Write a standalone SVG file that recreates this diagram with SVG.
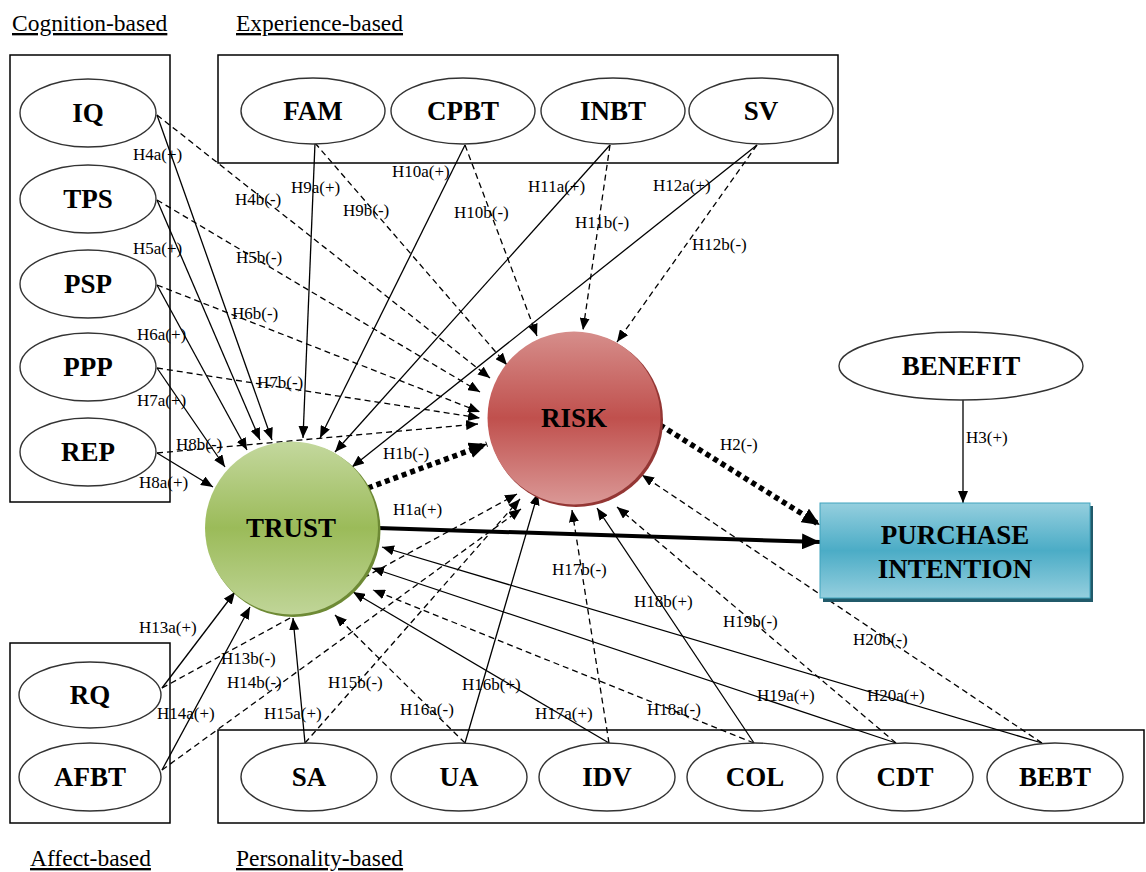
<svg xmlns="http://www.w3.org/2000/svg" width="1146" height="872" viewBox="0 0 1146 872">
<style>
.box{fill:none;stroke:#000;stroke-width:1.5}
.el{fill:#fff;stroke:#333;stroke-width:1.4}
.nt{font-family:"Liberation Serif","Times New Roman",serif;font-weight:bold;font-size:27px;fill:#000;text-anchor:middle}
.hd{font-family:"Liberation Serif","Times New Roman",serif;font-size:23.5px;fill:#000;text-decoration:underline}
.lb{font-family:"Liberation Serif","Times New Roman",serif;font-size:17px;fill:#000}
.s{stroke:#000;stroke-width:1.3;fill:none;marker-end:url(#ah)}
.d{stroke:#000;stroke-width:1.3;fill:none;stroke-dasharray:6,4;marker-end:url(#ah)}
.dot{stroke:#000;stroke-width:5.5;fill:none;stroke-dasharray:5,4;marker-end:url(#big)}
.thick{stroke:#000;stroke-width:4;fill:none;marker-end:url(#big)}
</style>
<defs>
<marker id="ah" markerUnits="userSpaceOnUse" markerWidth="12" markerHeight="10" refX="12" refY="5" orient="auto">
<path d="M0,0 L12,5 L0,10 z" fill="#000"/>
</marker>
<marker id="big" markerUnits="userSpaceOnUse" markerWidth="18" markerHeight="16" refX="18" refY="8" orient="auto">
<path d="M0,0 L18,8 L0,16 z" fill="#000"/>
</marker>
<linearGradient id="gT" x1="0" y1="0" x2="0" y2="1">
<stop offset="0" stop-color="#c4d89e"/><stop offset="0.5" stop-color="#9bbb59"/><stop offset="1" stop-color="#c0d598"/>
</linearGradient>
<linearGradient id="gR" x1="0" y1="0" x2="0" y2="1">
<stop offset="0" stop-color="#d68e8b"/><stop offset="0.5" stop-color="#c0504d"/><stop offset="1" stop-color="#da9896"/>
</linearGradient>
<linearGradient id="gP" x1="0" y1="0" x2="0" y2="1">
<stop offset="0" stop-color="#95cfde"/><stop offset="0.5" stop-color="#4bacc6"/><stop offset="1" stop-color="#95cfde"/>
</linearGradient>
</defs>
<rect width="1146" height="872" fill="#fff"/>

<g id="groups">
<rect class="box" x="10" y="55" width="160" height="447"/>
<rect class="box" x="218" y="55" width="620" height="108"/>
<rect class="box" x="10" y="643" width="160" height="180"/>
<rect class="box" x="218" y="730" width="926" height="93"/>
<text class="hd" x="12" y="31">Cognition-based</text>
<text class="hd" x="236" y="31">Experience-based</text>
<text class="hd" x="30" y="866">Affect-based</text>
<text class="hd" x="236" y="866">Personality-based</text>
</g>

<g id="connectors">
<line class="s" x1="157" y1="115" x2="272" y2="440"/>
<line class="s" x1="157" y1="200" x2="260" y2="440"/>
<line class="s" x1="157" y1="285" x2="247" y2="450"/>
<line class="s" x1="157" y1="368" x2="225" y2="467"/>
<line class="s" x1="157" y1="453" x2="213" y2="487"/>
<line class="s" x1="315" y1="143" x2="303" y2="438"/>
<line class="s" x1="465" y1="145" x2="320" y2="438"/>
<line class="s" x1="610" y1="145" x2="335" y2="452"/>
<line class="s" x1="757" y1="145" x2="352" y2="467"/>
<line class="s" x1="162" y1="688" x2="235" y2="592"/>
<line class="s" x1="162" y1="770" x2="250" y2="607"/>
<line class="s" x1="305" y1="743" x2="293" y2="618"/>
<line class="s" x1="609" y1="743" x2="353" y2="592"/>
<line class="s" x1="896" y1="743" x2="372" y2="568"/>
<line class="s" x1="1042" y1="743" x2="382" y2="547"/>
<line class="d" x1="465" y1="743" x2="335" y2="615"/>
<line class="d" x1="754" y1="743" x2="373" y2="590"/>
<line class="d" x1="157" y1="115" x2="490" y2="378"/>
<line class="d" x1="157" y1="200" x2="480" y2="392"/>
<line class="d" x1="157" y1="285" x2="480" y2="412"/>
<line class="d" x1="157" y1="368" x2="480" y2="418"/>
<line class="d" x1="157" y1="453" x2="478" y2="424"/>
<line class="d" x1="315" y1="143" x2="507" y2="365"/>
<line class="d" x1="465" y1="145" x2="537" y2="336"/>
<line class="d" x1="610" y1="145" x2="583" y2="330"/>
<line class="d" x1="757" y1="145" x2="617" y2="342"/>
<line class="d" x1="162" y1="688" x2="517" y2="494"/>
<line class="d" x1="162" y1="770" x2="521" y2="509"/>
<line class="d" x1="305" y1="743" x2="520" y2="499"/>
<line class="d" x1="609" y1="743" x2="572" y2="510"/>
<line class="d" x1="896" y1="743" x2="617" y2="507"/>
<line class="d" x1="1042" y1="743" x2="642" y2="475"/>
<line class="s" x1="465" y1="743" x2="538" y2="493"/>
<line class="s" x1="754" y1="743" x2="597" y2="508"/>
<line class="thick" x1="378" y1="528" x2="820" y2="542"/>
<line class="dot" x1="368" y1="488" x2="487" y2="444"/>
<line class="dot" x1="660" y1="425" x2="820" y2="525"/>
<line class="s" x1="963" y1="399" x2="963" y2="503"/>

<text class="lb" x="133" y="160">H4a(+)</text>
<text class="lb" x="235" y="205">H4b(-)</text>
<text class="lb" x="291" y="193">H9a(+)</text>
<text class="lb" x="343" y="216">H9b(-)</text>
<text class="lb" x="392" y="177">H10a(+)</text>
<text class="lb" x="454" y="218">H10b(-)</text>
<text class="lb" x="528" y="192">H11a(+)</text>
<text class="lb" x="575" y="228">H11b(-)</text>
<text class="lb" x="653" y="191">H12a(+)</text>
<text class="lb" x="692" y="250">H12b(-)</text>
<text class="lb" x="133" y="254">H5a(+)</text>
<text class="lb" x="236" y="263">H5b(-)</text>
<text class="lb" x="137" y="340">H6a(+)</text>
<text class="lb" x="232" y="319">H6b(-)</text>
<text class="lb" x="137" y="406">H7a(+)</text>
<text class="lb" x="257" y="388">H7b(-)</text>
<text class="lb" x="176" y="450">H8b(-)</text>
<text class="lb" x="139" y="488">H8a(+)</text>
<text class="lb" x="383" y="459">H1b(-)</text>
<text class="lb" x="393" y="515">H1a(+)</text>
<text class="lb" x="720" y="450">H2(-)</text>
<text class="lb" x="966" y="443">H3(+)</text>
<text class="lb" x="552" y="575">H17b(-)</text>
<text class="lb" x="634" y="607">H18b(+)</text>
<text class="lb" x="723" y="627">H19b(-)</text>
<text class="lb" x="853" y="645">H20b(-)</text>
<text class="lb" x="139" y="633">H13a(+)</text>
<text class="lb" x="221" y="664">H13b(-)</text>
<text class="lb" x="227" y="688">H14b(-)</text>
<text class="lb" x="328" y="688">H15b(-)</text>
<text class="lb" x="462" y="690">H16b(+)</text>
<text class="lb" x="157" y="719">H14a(+)</text>
<text class="lb" x="264" y="719">H15a(+)</text>
<text class="lb" x="400" y="715">H16a(-)</text>
<text class="lb" x="535" y="719">H17a(+)</text>
<text class="lb" x="647" y="715">H18a(-)</text>
<text class="lb" x="757" y="701">H19a(+)</text>
<text class="lb" x="867" y="701">H20a(+)</text>
</g>

<g id="IQ"><ellipse class="el" cx="88" cy="113" rx="68" ry="34"/><text class="nt" x="88" y="122">IQ</text></g>
<g id="TPS"><ellipse class="el" cx="88" cy="199" rx="68" ry="34"/><text class="nt" x="88" y="208">TPS</text></g>
<g id="PSP"><ellipse class="el" cx="88" cy="284" rx="68" ry="34"/><text class="nt" x="88" y="293">PSP</text></g>
<g id="PPP"><ellipse class="el" cx="88" cy="367" rx="68" ry="34"/><text class="nt" x="88" y="376">PPP</text></g>
<g id="REP"><ellipse class="el" cx="88" cy="452" rx="68" ry="34"/><text class="nt" x="88" y="461">REP</text></g>

<g id="FAM"><ellipse class="el" cx="313" cy="111" rx="72" ry="33"/><text class="nt" x="313" y="120">FAM</text></g>
<g id="CPBT"><ellipse class="el" cx="463" cy="111" rx="72" ry="33"/><text class="nt" x="463" y="120">CPBT</text></g>
<g id="INBT"><ellipse class="el" cx="613" cy="111" rx="72" ry="33"/><text class="nt" x="613" y="120">INBT</text></g>
<g id="SV"><ellipse class="el" cx="761" cy="111" rx="72" ry="33"/><text class="nt" x="761" y="120">SV</text></g>

<g id="RQ"><ellipse class="el" cx="90" cy="695" rx="71" ry="33"/><text class="nt" x="90" y="704">RQ</text></g>
<g id="AFBT"><ellipse class="el" cx="90" cy="777" rx="71" ry="34"/><text class="nt" x="90" y="786">AFBT</text></g>

<g id="SA"><ellipse class="el" cx="309" cy="777" rx="68" ry="34"/><text class="nt" x="309" y="786">SA</text></g>
<g id="UA"><ellipse class="el" cx="459" cy="777" rx="68" ry="34"/><text class="nt" x="459" y="786">UA</text></g>
<g id="IDV"><ellipse class="el" cx="607" cy="777" rx="68" ry="34"/><text class="nt" x="607" y="786">IDV</text></g>
<g id="COL"><ellipse class="el" cx="755" cy="777" rx="68" ry="34"/><text class="nt" x="755" y="786">COL</text></g>
<g id="CDT"><ellipse class="el" cx="905" cy="777" rx="68" ry="34"/><text class="nt" x="905" y="786">CDT</text></g>
<g id="BEBT"><ellipse class="el" cx="1055" cy="777" rx="68" ry="34"/><text class="nt" x="1055" y="786">BEBT</text></g>

<g id="BENEFIT"><ellipse class="el" cx="961" cy="366" rx="122" ry="34"/><text class="nt" x="961" y="375">BENEFIT</text></g>

<g id="TRUST">
<circle cx="293.5" cy="530" r="87" fill="#6e8a35"/>
<circle cx="291.5" cy="528" r="86.5" fill="url(#gT)"/>
<text class="nt" x="291" y="537">TRUST</text>
</g>
<g id="RISK">
<circle cx="576" cy="420" r="87" fill="#943634"/>
<circle cx="574" cy="418" r="86.5" fill="url(#gR)"/>
<text class="nt" x="574" y="427">RISK</text>
</g>
<g id="PURCHASE_INTENTION">
<rect x="823" y="506" width="270" height="96" fill="#215a6a"/>
<rect x="820" y="503" width="270" height="95" fill="url(#gP)" stroke="#40a3bd" stroke-width="1"/>
<text class="nt" x="955" y="544">PURCHASE</text>
<text class="nt" x="955" y="578">INTENTION</text>
</g>
</svg>
